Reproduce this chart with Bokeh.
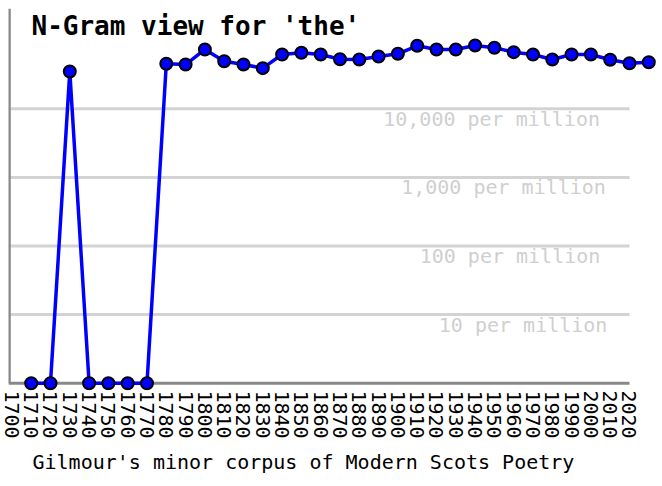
import math
from bokeh.plotting import figure
from bokeh.models import FixedTicker, Label, Range1d, Title
from bokeh.core.properties import value
from bokeh.embed import file_html
from bokeh.resources import INLINE

# ---------------- data ----------------
YEARS = [1710, 1720, 1730, 1740, 1750, 1760, 1770, 1780, 1790, 1800, 1810,
         1820, 1830, 1840, 1850, 1860, 1870, 1880, 1890, 1900, 1910, 1920,
         1930, 1940, 1950, 1960, 1970, 1980, 1990, 2000, 2010, 2020, 2030]
# occurrences of 'the' per million words (0 = no occurrence)
FREQ = [0, 0, 35000, 0, 0, 0, 0, 45300, 44200, 73200, 49400,
        44200, 39100, 61900, 65500, 61900, 52800, 52300, 57800, 63300, 82800, 73200,
        73200, 83700, 77500, 66900, 61900, 52300, 61900, 61900, 51800, 46200, 47800]
TICK_YEARS = [1700, 1710, 1720, 1730, 1740, 1750, 1760, 1770, 1780, 1790, 1800,
              1810, 1820, 1830, 1840, 1850, 1860, 1870, 1880, 1890, 1900, 1910,
              1920, 1930, 1940, 1950, 1960, 1970, 1980, 1990, 2000, 2010, 2020]
GRID_VALUES = [10, 100, 1000, 10000]
GRID_LABELS = ["10 per million", "100 per million", "1,000 per million", "10,000 per million"]
TITLE = "N-Gram view for 'the'"
SUBTITLE = "Gilmour's minor corpus of Modern Scots Poetry"

# ---------------- layout constants ----------------
FLOOR = 1                      # zero values are drawn on the axis floor
X_START, X_END = 1698.24, 2035.03
Y_START, Y_END = 0.7827, 289700
AXIS_END_YEAR = TICK_YEARS[-1]
GRID_LABEL_X = [1921.2, 1911.3, 1901.7, 1892.4]
FONT = "DejaVu Sans Mono"

y_plot = [max(v, FLOOR) for v in FREQ]

p = figure(frame_width=650, frame_height=382,
           x_range=Range1d(X_START, X_END), y_range=Range1d(Y_START, Y_END),
           y_axis_type="log", y_axis_location=None,
           output_backend="svg", toolbar_location=None,
           min_border_left=8, min_border_right=0, min_border_top=8,
           min_border_bottom=96)
p.outline_line_color = None
p.grid.visible = False
p.background_fill_color = "white"
p.border_fill_color = "white"

# x axis: labels only
ax = p.xaxis[0]
ax.ticker = FixedTicker(ticks=TICK_YEARS)
ax.axis_line_color = None
ax.major_tick_line_color = None
ax.minor_tick_line_color = None
ax.major_tick_out = 0
ax.major_tick_in = 0
ax.major_label_standoff = 0
ax.major_label_orientation = -math.pi / 2
ax.major_label_text_font = FONT
ax.major_label_text_font_size = "20px"
ax.major_label_text_color = "black"

# gridlines (horizontal, ending at the last tick year)
p.segment(x0=[X_START] * len(GRID_VALUES), x1=[AXIS_END_YEAR] * len(GRID_VALUES),
          y0=GRID_VALUES, y1=GRID_VALUES, line_color="#d3d3d3", line_width=3)
p.text(x=GRID_LABEL_X, y=GRID_VALUES, text=GRID_LABELS,
       text_font=value(FONT), text_font_size="20px", text_color="#cfcfcf",
       text_baseline="alphabetic", text_align="left", y_offset=10)

# axis lines
p.segment(x0=[X_START], x1=[AXIS_END_YEAR], y0=[FLOOR], y1=[FLOOR],
          line_color="#888888", line_width=3)
p.segment(x0=[X_START + 0.4], x1=[X_START + 0.4], y0=[FLOOR], y1=[Y_END],
          line_color="#888888", line_width=3)

# data
p.line(YEARS, y_plot, line_color="#0000ff", line_width=3.5)
p.scatter(YEARS, y_plot, size=12, fill_color="#0000ff", line_color="black",
          line_width=2)

p.add_layout(Label(x=23, y=365, x_units="screen", y_units="screen", text=TITLE,
                   text_font=FONT, text_font_size="26px", text_font_style="bold",
                   text_color="black", text_baseline="alphabetic"))
p.add_layout(Title(text=SUBTITLE, align="left", offset=24, standoff=12,
                   text_font=FONT, text_font_size="20px", text_font_style="normal",
                   text_color="black"), "below")

open("out.html", "w").write(file_html(p, INLINE))
